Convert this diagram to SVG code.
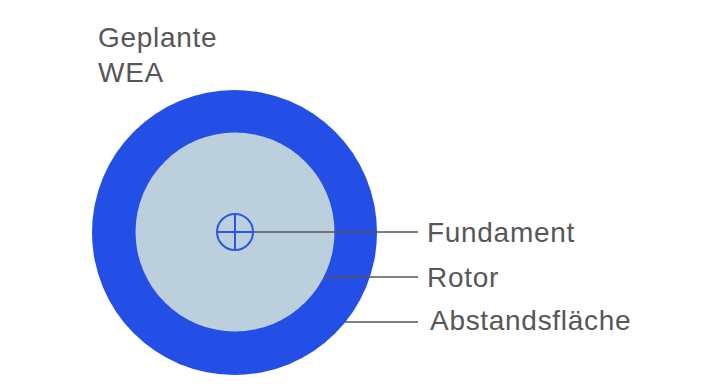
<svg xmlns="http://www.w3.org/2000/svg" width="716" height="387" viewBox="0 0 716 387">
<style>
text{font-family:"Liberation Sans",Arial,sans-serif;font-size:28px;fill:#575757;letter-spacing:0.7px}
.ln{stroke:#555;stroke-width:1.5;fill:none}
.sym{stroke:#2a55e8;stroke-width:2;fill:none}
</style>
<rect width="716" height="387" fill="#fff"/>
<g id="abstandsflaeche"><circle cx="234.5" cy="232.5" r="142.5" fill="#234fe6"/></g>
<g id="rotor"><circle cx="235" cy="232" r="99.5" fill="#bccfdd"/></g>
<g id="fundament">
<circle class="sym" cx="235" cy="232" r="18"/>
<line class="sym" x1="217" y1="232" x2="253" y2="232"/>
<line class="sym" x1="235" y1="214" x2="235" y2="250"/>
</g>
<g id="connectors">
<line class="ln" x1="253" y1="232" x2="418" y2="232"/>
<line class="ln" x1="325" y1="277" x2="418" y2="277"/>
<line class="ln" x1="345" y1="322" x2="418" y2="322"/>
</g>
<g id="labels">
<text x="98" y="47">Geplante</text>
<text x="98" y="82">WEA</text>
<text x="427" y="242">Fundament</text>
<text x="427" y="287">Rotor</text>
<text x="430" y="330">Abstandsfläche</text>
</g>
</svg>
